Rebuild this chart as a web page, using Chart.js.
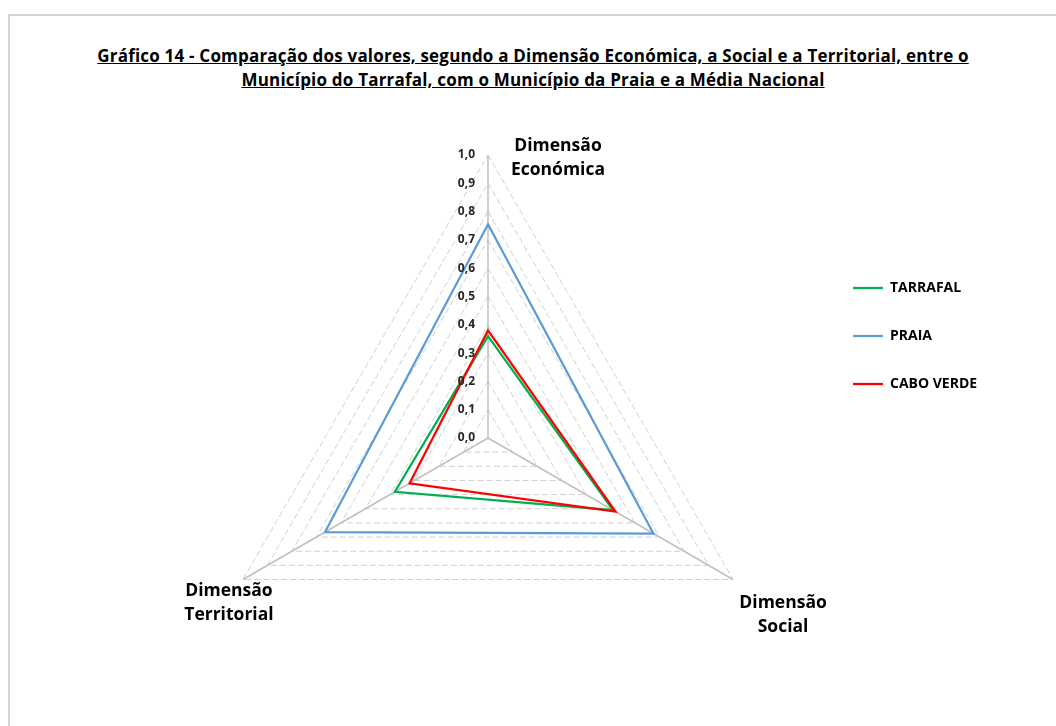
<!DOCTYPE html>
<html lang="pt">
<head>
<meta charset="utf-8">
<script src="https://cdn.jsdelivr.net/npm/chart.js@4.4.1/dist/chart.umd.min.js"></script>
<style>
  html, body { margin: 0; padding: 0; background: #fff; }
  body { width: 1056px; height: 726px; position: relative; overflow: hidden; }
  .moldura {
    position: absolute; left: 8px; top: 14px; width: 1100px; height: 800px;
    border: 2px solid #d4d4d4; box-sizing: border-box;
  }
  .titulo {
    position: absolute; left: 0; top: 44px; width: 1066px;
    text-align: center; font-family: "Open Sans", sans-serif; font-weight: bold;
    font-size: 17px; line-height: 24px; color: #000; text-decoration: underline;
    letter-spacing: 0.2px;
  }
  #grafico { position: absolute; left: 0; top: 0; }
</style>
</head>
<body>
<div class="moldura"></div>
<div class="titulo">Gráfico 14 - Comparação dos valores, segundo a Dimensão Económica, a Social e a Territorial, entre o<br>Município do Tarrafal, com o Município da Praia e a Média Nacional</div>
<canvas id="grafico" width="1056" height="726"></canvas>
<script>
// === Dados ===
const dimensoes = [["Dimensão", "Económica"], ["Dimensão", "Social"], ["Dimensão", "Territorial"]];
const tarrafal = [0.36, 0.51, 0.38];
const praia = [0.755, 0.675, 0.665];
const caboVerde = [0.38, 0.52, 0.32];
const ticksEixo = [0.0, 0.1, 0.2, 0.3, 0.4, 0.5, 0.6, 0.7, 0.8, 0.9, 1.0];

// deslocamento de cada rótulo em relação ao vértice (valor máximo)
const deslocRotulos = [[70, -9], [50, 24], [-14, 12]];

// === Rótulos dos eixos e escala desenhados à mão ===
const rotulosPlugin = {
  id: "rotulosRadar",
  afterDraw(chart) {
    const r = chart.scales.r;
    const ctx = chart.ctx;
    ctx.save();

    // valores da escala, à esquerda do eixo vertical
    ctx.font = "bold 12px 'Open Sans', sans-serif";
    ctx.fillStyle = "#262626";
    ctx.textAlign = "right";
    ctx.textBaseline = "middle";
    ticksEixo.forEach(v => {
      const y = r.yCenter - r.getDistanceFromCenterForValue(v);
      ctx.fillText(v.toFixed(1).replace(".", ","), r.xCenter - 13, y);
    });

    // nomes das dimensões
    ctx.font = "bold 17.5px 'Open Sans', sans-serif";
    ctx.fillStyle = "#000";
    ctx.textAlign = "center";
    dimensoes.forEach((linhas, i) => {
      const p = r.getPointPositionForValue(i, r.max);
      const [dx, dy] = deslocRotulos[i];
      linhas.forEach((txt, k) => ctx.fillText(txt, p.x + dx, p.y + dy + k * 24));
    });
    ctx.restore();
  }
};

function serie(nome, dados, cor, ordem) {
  return {
    label: nome,
    data: dados,
    borderColor: cor,
    backgroundColor: cor,
    borderWidth: 2.25,
    pointRadius: 0,
    pointHoverRadius: 0,
    fill: false,
    order: ordem
  };
}

new Chart(document.getElementById("grafico"), {
  type: "radar",
  data: {
    labels: dimensoes,
    datasets: [
      serie("TARRAFAL", tarrafal, "#00b050", 3),
      serie("PRAIA", praia, "#5b9bd5", 2),
      serie("CABO VERDE", caboVerde, "#ff0000", 1)
    ]
  },
  options: {
    responsive: false,
    animation: false,
    layout: { padding: { left: 157, right: 77, top: 155, bottom: 5 } },
    scales: {
      r: {
        min: 0,
        max: 1,
        ticks: { display: false, stepSize: 0.1 },
        pointLabels: { display: false },
        grid: { color: "#d0d0d0", lineWidth: 1 },
        border: { dash: [6, 3] },
        angleLines: { color: "#c0c0c0", lineWidth: 1.5 }
      }
    },
    plugins: {
      tooltip: { enabled: false },
      legend: {
        position: "right",
        align: "start",
        maxWidth: 160,
        title: { display: true, text: "", font: { size: 10, lineHeight: 1 }, padding: { top: 82, bottom: 0 } },
        labels: {
          usePointStyle: true,
          pointStyle: "line",
          pointStyleWidth: 30,
          padding: 34,
          color: "#000",
          font: { family: "'Open Sans', sans-serif", size: 14, weight: "bold" },
          sort: (a, b) => a.datasetIndex - b.datasetIndex
        }
      }
    }
  },
  plugins: [rotulosPlugin]
});
</script>
</body>
</html>
